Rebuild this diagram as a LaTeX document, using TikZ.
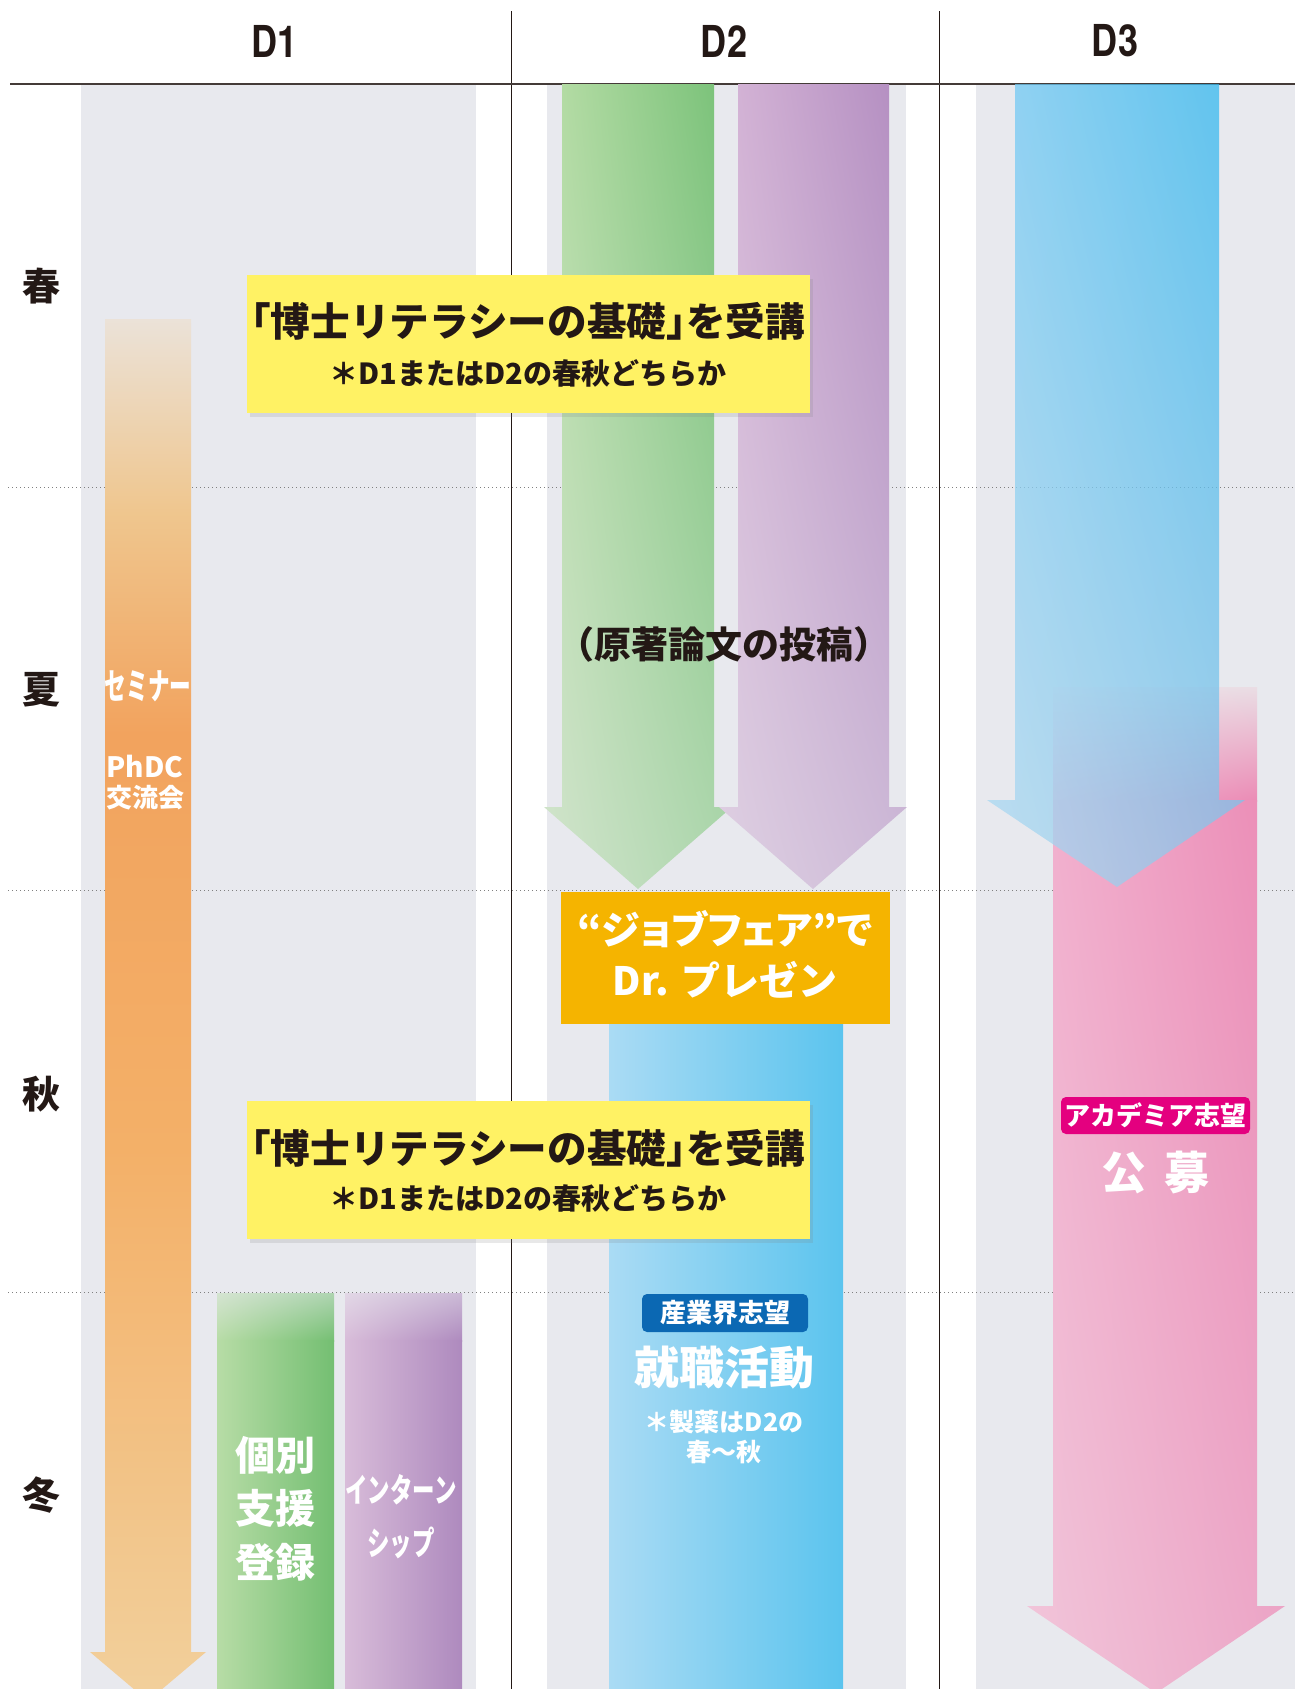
\documentclass[tikz,border=0pt]{standalone}
\usepackage{fontspec}
\setmainfont{Noto Sans CJK JP}
\newfontfamily\headfont[FakeStretch=0.82]{TeX Gyre Heros}
\usetikzlibrary{shadows,shadings}

\definecolor{inkblack}{HTML}{231815}
\definecolor{colgray}{HTML}{E8E9EE}
\definecolor{grnL}{HTML}{B7DCA6}
\definecolor{grnR}{HTML}{74BF72}
\definecolor{pplL}{HTML}{D8BCD9}
\definecolor{pplR}{HTML}{AE8ABE}
\definecolor{bluBarL}{HTML}{AADBF4}
\definecolor{bluR}{HTML}{5BC4EE}
\definecolor{semT}{HTML}{EBE2D8}
\definecolor{semL}{HTML}{EFC68E}
\definecolor{semM}{HTML}{F2A35E}
\definecolor{semN}{HTML}{F3B068}
\definecolor{semB}{HTML}{F2D09C}
\definecolor{gnUL}{HTML}{B9DEA8}
\definecolor{gnUR}{HTML}{76C076}
\definecolor{gnLL}{HTML}{D2E4CD}
\definecolor{gnLR}{HTML}{ACD6AC}
\definecolor{ppUL}{HTML}{D6B6D7}
\definecolor{ppUR}{HTML}{B28CC0}
\definecolor{ppLL}{HTML}{DED0E2}
\definecolor{ppLR}{HTML}{CDB9D7}
\definecolor{pkTL}{HTML}{EDE3EA}
\definecolor{pkTR}{HTML}{EADDE4}
\definecolor{pkUL}{HTML}{F2B3D0}
\definecolor{pkUR}{HTML}{EB8BB5}
\definecolor{pkLL}{HTML}{F1C6DA}
\definecolor{pkLR}{HTML}{ECA6C7}
\definecolor{blUL}{HTML}{7BCCF5}
\definecolor{blUR}{HTML}{2DB6EE}
\definecolor{blLL}{HTML}{B0DAF1}
\definecolor{blLR}{HTML}{88C4E9}
\definecolor{lityellow}{HTML}{FFF264}
\definecolor{fairorange}{HTML}{F5B400}
\definecolor{indblue}{HTML}{0B68B3}
\definecolor{acamag}{HTML}{E4007F}

\pgfdeclareverticalshading{seminarshade}{100bp}{color(0bp)=(semB); color(25bp)=(semB); color(45bp)=(semN); color(60bp)=(semM); color(68bp)=(semL); color(75bp)=(semT); color(100bp)=(semT)}
\newcommand\openq[1]{\makebox[0.5em][r]{#1}}
\newcommand\closeq[1]{\makebox[0.5em][l]{#1}}

\begin{document}
\begin{tikzpicture}[x=1pt,y=-1pt,
    yearhead/.style={font=\headfont\fontsize{44}{46}\selectfont\bfseries,text=inkblack},
    season/.style={font=\fontsize{38}{40}\selectfont\bfseries,text=inkblack},
    litbox/.style={fill=lityellow,minimum width=563pt,minimum height=138pt,
      drop shadow={opacity=.18,shadow xshift=3pt,shadow yshift=-4pt}},
    littitle/.style={font=\fontsize{39.6}{42}\selectfont\bfseries,text=inkblack,inner sep=0pt},
    litnote/.style={font=\fontsize{29}{30}\selectfont\bfseries,text=inkblack,inner sep=0pt},
    whitetext/.style={text=white,inner sep=0pt,font=\fontsize{#1}{#1}\selectfont\bfseries},
    tag/.style={rounded corners=5pt,inner sep=0pt,text=white,font=\fontsize{26}{28}\selectfont\bfseries}]
  \useasboundingbox (0,0) rectangle (1295,1689);
  \clip (0,0) rectangle (1295,1689);
  % columns
  \fill[colgray] (81,84) rectangle (476,1689);
  \fill[colgray] (547,84) rectangle (906,1689);
  \fill[colgray] (976,84) rectangle (1295,1689);
  \draw[inkblack,line width=1pt] (511,11) -- (511,1689);
  \draw[inkblack,line width=1pt] (939,11) -- (939,1689);
  \draw[inkblack!85,line width=1.8pt] (10,84) -- (1295,84);
  \foreach \y in {487,890,1292}
    \draw[gray,line width=1pt,dash pattern=on 1pt off 3pt] (8,\y) -- (1295,\y);
  \node[yearhead] (d1) at (275,41) {D1};
  \node[yearhead] (d2) at (724,41) {D2};
  \node[yearhead] (d3) at (1115,41) {D3};
  \node[season] (spring) at (41,286) {春};
  \node[season] (summer) at (41,690) {夏};
  \node[season] (autumn) at (41,1094) {秋};
  \node[season] (winter) at (41,1495) {冬};

  % D1
  \shade[shading=seminarshade] (105,319) -- (191,319) -- (191,1652) -- (206,1652) -- (148,1701) -- (90,1652) -- (105,1652) -- cycle;
  \shade[upper left=colgray!60!grnL,upper right=colgray!50!grnR,lower left=grnL,lower right=grnR] (217,1293) rectangle (334,1341);
  \fill[left color=grnL,right color=grnR] (217,1340) rectangle (334,1689);
  \shade[upper left=colgray!60!pplL,upper right=colgray!50!pplR,lower left=pplL,lower right=pplR] (345,1293) rectangle (462,1341);
  \fill[left color=pplL,right color=pplR] (345,1340) rectangle (462,1689);
  \node[whitetext=36] (seminar) at (148,686) {\scalebox{0.6}[1]{セミナー}};
  \node[whitetext=28] (phdc) at (145,767) {PhDC};
  \node[whitetext=26] (meetup) at (145,798) {交流会};
  \node[whitetext=40] (reg1) at (275,1455) {個別};
  \node[whitetext=40] (reg2) at (275,1508) {支援};
  \node[whitetext=40] (reg3) at (275,1562) {登録};
  \node[whitetext=33] (intern1) at (401,1490) {\scalebox{0.68}[1]{インターン}};
  \node[whitetext=33] (intern2) at (401,1543) {\scalebox{0.68}[1]{シップ}};

  % D2
  \shade[upper left=gnUL,upper right=gnUR,lower left=gnLL,lower right=gnLR] (562,84) -- (714,84) -- (714,807) -- (732,807) -- (638,889) -- (544,807) -- (562,807) -- cycle;
  \shade[upper left=ppUL,upper right=ppUR,lower left=ppLL,lower right=ppLR] (738,84) -- (889,84) -- (889,807) -- (907,807) -- (813,889) -- (719,807) -- (738,807) -- cycle;
  \fill[left color=bluBarL,right color=bluR] (609,1024) rectangle (843,1689);
  \node[font=\fontsize{37}{40}\selectfont\bfseries,text=inkblack] (paper) at (724,644) {（原著論文の投稿）};
  \node[fill=fairorange,minimum width=329pt,minimum height=132pt] (fair) at (725.5,958) {};
  \node[whitetext=39] (fair1) at (725,929) {\addfontfeature{RawFeature=+palt}“ジョブフェア”で};
  \node[whitetext=39] (fair2) at (725,980) {Dr. プレゼン};
  \node[tag,fill=indblue,minimum width=166pt,minimum height=38pt] (industry) at (725,1313) {産業界志望};
  \node[whitetext=45] (jobhunt) at (724,1368) {就職活動};
  \node[whitetext=25] (pharma1) at (724,1422) {＊製薬はD2の};
  \node[whitetext=25] (pharma2) at (724,1452) {春～秋};

  % D3
  \shade[upper left=pkTL,upper right=pkTR,lower left=pkUL,lower right=pkUR] (1053,687) rectangle (1257,801);
  \shade[upper left=pkUL,upper right=pkUR,lower left=pkLL,lower right=pkLR] (1053,800) -- (1257,800) -- (1257,1606) -- (1285,1606) -- (1156,1693) -- (1027,1606) -- (1053,1606) -- cycle;
  \shade[fill opacity=.75,upper left=blUL,upper right=blUR,lower left=blLL,lower right=blLR] (1015,84) -- (1219,84) -- (1219,800) -- (1245,800) -- (1117,887) -- (987,800) -- (1015,800) -- cycle;
  \node[tag,fill=acamag,minimum width=189pt,minimum height=37pt] (academia) at (1155.5,1115.5) {アカデミア志望};
  \node[whitetext=45] (recruit) at (1155,1172) {公\hspace{18pt}募};

  % literacy course
  \node[litbox] (lit1) at (528,344) {};
  \node[littitle] (lit1t) at (528,321) {\openq{「}博士リテラシーの基礎\closeq{」}を受講};
  \node[litnote] (lit1n) at (528,373) {＊D1またはD2の春秋どちらか};
  \node[litbox] (lit2) at (528,1170) {};
  \node[littitle] (lit2t) at (528,1148) {\openq{「}博士リテラシーの基礎\closeq{」}を受講};
  \node[litnote] (lit2n) at (528,1198) {＊D1またはD2の春秋どちらか};
\end{tikzpicture}
\end{document}
